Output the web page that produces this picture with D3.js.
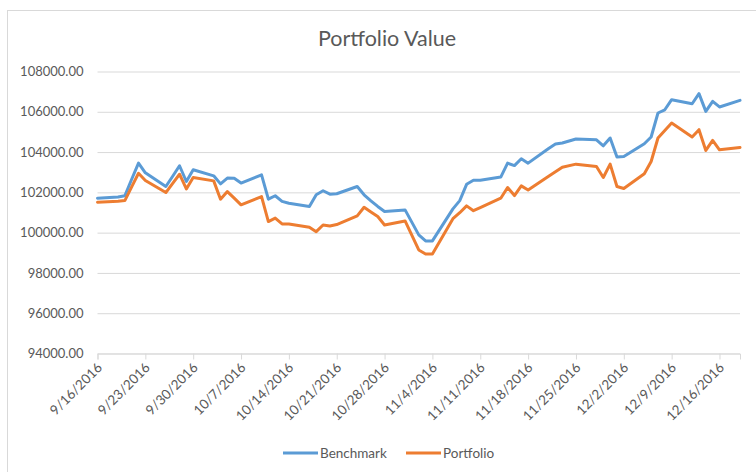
<!DOCTYPE html>
<html>
<head>
<meta charset="utf-8">
<script src="https://cdn.jsdelivr.net/npm/d3@7"></script>
<style>
  html, body { margin: 0; padding: 0; background: #fff; }
  svg { display: block; font-family: Lato, "Open Sans", sans-serif; }
</style>
</head>
<body>
<div id="chart"></div>
<script>
// trading days shown on the chart
const dates = [
    '9/16/2016', '9/19/2016', '9/20/2016', '9/21/2016', '9/22/2016', '9/23/2016',
    '9/26/2016', '9/27/2016', '9/28/2016', '9/29/2016', '9/30/2016',
    '10/3/2016', '10/4/2016', '10/5/2016', '10/6/2016', '10/7/2016',
    '10/10/2016', '10/11/2016', '10/12/2016', '10/13/2016', '10/14/2016',
    '10/17/2016', '10/18/2016', '10/19/2016', '10/20/2016', '10/21/2016',
    '10/24/2016', '10/25/2016', '10/26/2016', '10/27/2016', '10/28/2016',
    '10/31/2016', '11/1/2016', '11/2/2016', '11/3/2016', '11/4/2016',
    '11/7/2016', '11/8/2016', '11/9/2016', '11/10/2016', '11/11/2016',
    '11/14/2016', '11/15/2016', '11/16/2016', '11/17/2016', '11/18/2016',
    '11/21/2016', '11/22/2016', '11/23/2016', '11/25/2016',
    '11/28/2016', '11/29/2016', '11/30/2016', '12/1/2016', '12/2/2016',
    '12/5/2016', '12/6/2016', '12/7/2016', '12/8/2016', '12/9/2016',
    '12/12/2016', '12/13/2016', '12/14/2016', '12/15/2016', '12/16/2016',
    '12/19/2016'
];

const benchmark = [
    101710, 101770, 101830, 102650, 103450, 102970,
    102290, 102800, 103320, 102540, 103120,
    102820, 102420, 102710, 102700, 102460,
    102870, 101660, 101830, 101550, 101460,
    101300, 101880, 102080, 101910, 101930,
    102290, 101880, 101580, 101300, 101050,
    101130, 100510, 99890, 99590, 99590,
    101180, 101590, 102400, 102600, 102600,
    102760, 103450, 103330, 103670, 103450,
    104180, 104400, 104450, 104650,
    104610, 104310, 104700, 103750, 103780,
    104410, 104750, 105940, 106100, 106600,
    106400, 106900, 106020, 106520, 106240,
    106570
];

const portfolio = [
    101510, 101560, 101590, 102270, 102950, 102590,
    101990, 102450, 102900, 102170, 102740,
    102570, 101660, 102040, 101710, 101380,
    101790, 100550, 100720, 100430, 100430,
    100270, 100050, 100380, 100330, 100400,
    100830, 101260, 101030, 100800, 100380,
    100580, 99860, 99140, 98940, 98940,
    100690, 100990, 101330, 101090, 101240,
    101710, 102240, 101840, 102320, 102120,
    102800, 103020, 103250, 103400,
    103280, 102740, 103400, 102290, 102190,
    102920, 103530, 104700, 105070, 105440,
    104750, 105110, 104080, 104580, 104110,
    104230
];

const tickLabels = [
    '9/16/2016', '9/23/2016', '9/30/2016', '10/7/2016', '10/14/2016', '10/21/2016',
    '10/28/2016', '11/4/2016', '11/11/2016', '11/18/2016', '11/25/2016',
    '12/2/2016', '12/9/2016', '12/16/2016'
];
const yTicks = [94000, 96000, 98000, 100000, 102000, 104000, 106000, 108000];

const series = [
    { name: 'Benchmark', values: benchmark, color: '#5B9BD5' },
    { name: 'Portfolio', values: portfolio, color: '#ED7D31' }
];

const W = 756, H = 472;
const parse = d3.timeParse('%m/%d/%Y');
const TEXT = '#595959', GRID = '#d9d9d9';

const svg = d3.select('#chart').append('svg')
    .attr('width', W).attr('height', H);

// chart frame
svg.append('rect')
    .attr('x', 7.5).attr('y', 10.5)
    .attr('width', 780).attr('height', 480)
    .attr('fill', '#fff').attr('stroke', GRID);

svg.append('text')
    .attr('x', 387).attr('y', 46)
    .attr('text-anchor', 'middle')
    .attr('fill', TEXT).style('font-size', '21.5px')
    .text('Portfolio Value');

const x = d3.scaleTime()
    .domain([parse(dates[0]), parse(dates[dates.length - 1])])
    .range([97.5, 740]);
const y = d3.scaleLinear()
    .domain([94000, 108000])
    .range([353.5, 71.5]);

// gridlines + y labels
const gy = svg.append('g').attr('transform', 'translate(97.5,0)')
    .call(d3.axisLeft(y).tickValues(yTicks).tickSize(-(740 - 97.5)).tickPadding(14)
        .tickFormat(d3.format('.2f')));
gy.select('.domain').remove();
gy.selectAll('line').attr('stroke', GRID);
gy.selectAll('text').attr('fill', TEXT).style('font-size', '13px')
    .style('font-family', 'Lato, sans-serif');

// x axis
const gx = svg.append('g').attr('transform', `translate(0,${y(94000)})`)
    .call(d3.axisBottom(x).tickValues(tickLabels.map(parse)).tickSize(6)
        .tickFormat(d3.timeFormat('%-m/%-d/%Y')));
gx.select('.domain').attr('stroke', GRID);
gx.selectAll('line').attr('stroke', GRID);
gx.selectAll('text')
    .attr('fill', TEXT).style('font-size', '13.5px')
    .style('font-family', 'Lato, sans-serif')
    .attr('text-anchor', 'end')
    .attr('dy', null).attr('y', null)
    .attr('transform', 'translate(5,15) rotate(-45)');

// lines
const line = d3.line()
    .x((d, i) => x(parse(dates[i])))
    .y((d) => y(d));

series.forEach((s) => {
    svg.append('path')
        .datum(s.values)
        .attr('d', line)
        .attr('fill', 'none')
        .attr('stroke', s.color)
        .attr('stroke-width', 3)
        .attr('stroke-linejoin', 'round')
        .attr('stroke-linecap', 'round');
});

// legend
const legendX = [283, 406];
const lg = svg.append('g');
series.forEach((s, i) => {
    lg.append('line')
        .attr('x1', legendX[i]).attr('x2', legendX[i] + 35)
        .attr('y1', 453).attr('y2', 453)
        .attr('stroke', s.color).attr('stroke-width', 3);
    lg.append('text')
        .attr('x', legendX[i] + 37).attr('y', 457.5)
        .attr('fill', TEXT).style('font-size', '13.5px')
        .text(s.name);
});
</script>
</body>
</html>
